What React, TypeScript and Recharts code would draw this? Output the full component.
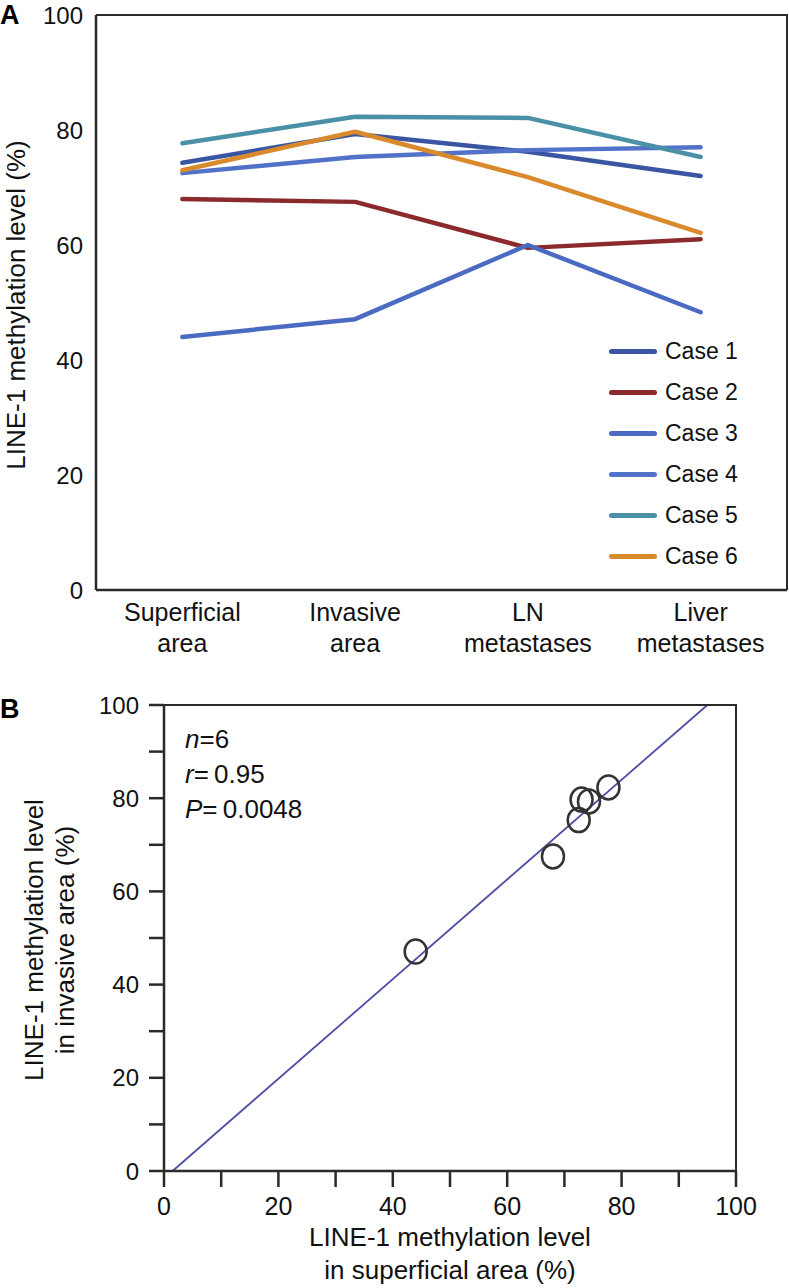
import React from 'react';
import { LineChart, Line, XAxis, YAxis, Legend, ScatterChart, Scatter, ReferenceLine } from 'recharts';

const FONT = '"Liberation Sans", Arial, Helvetica, sans-serif';

// ---- Data ----
const categories = ['Superficial area', 'Invasive area', 'LN metastases', 'Liver metastases'];
const tickLine1 = ['Superficial', 'Invasive', 'LN', 'Liver'];
const tickLine2 = ['area', 'area', 'metastases', 'metastases'];

const caseNames = ['Case 1', 'Case 2', 'Case 3', 'Case 4', 'Case 5', 'Case 6'];
const case1 = [74.3, 79.3, 76.2, 72.0];
const case2 = [68.0, 67.5, 59.5, 61.0];
const case3 = [44.0, 47.1, 60.0, 48.3];
const case4 = [72.5, 75.3, 76.5, 77.0];
const case5 = [77.7, 82.3, 82.1, 75.3];
const case6 = [73.0, 79.7, 71.8, 62.1];
const caseColors = ['#3a56a3', '#8a2a2c', '#4b6bc2', '#5272c9', '#4a90a6', '#d98a2c'];

const xDomainA: [number, number] = [-0.5, 3.5];
const yDomain: [number, number] = [0, 100];
const xDomainB: [number, number] = [0, 100];
const xTicksA = [0, 1, 2, 3];
const yTicksA = [0, 20, 40, 60, 80, 100];
const ticksB = [0, 10, 20, 30, 40, 50, 60, 70, 80, 90, 100];
const fitLine = [{ x: 1.5, y: 0 }, { x: 95, y: 100 }];
const statsLines = [
  { sym: 'n', val: '=6' },
  { sym: 'r', val: '=\u20090.95' },
  { sym: 'P', val: '=\u20090.0048' },
];

const allCases = [case1, case2, case3, case4, case5, case6];
const lineData = categories.map((c, i) => {
  const row: any = { idx: i, cat: c };
  allCases.forEach((arr, k) => { row[caseNames[k]] = arr[i]; });
  return row;
});
const scatterData = allCases.map((arr) => ({ x: arr[0], y: arr[1] }));

const AX = '#2a2a2a';
const axisLineStyle = { stroke: AX, strokeWidth: 2.5 };

// chart layouts (plot boxes)
const A = { w: 789, h: 660, top: 15, right: 2, left: 96, xAxisH: 70 };
const B = { y0: 660, w: 789, h: 628, top: 45, right: 53, left: 164, xAxisH: 117 };

const XTickA = (props: any) => {
  const { x, y, payload } = props;
  const i = Math.round(Number(payload.value));
  return (
    <text x={x} y={y} textAnchor="middle" fontFamily={FONT} fontSize={25} fill="#111">
      <tspan x={x} dy={31}>{tickLine1[i]}</tspan>
      <tspan x={x} dy={31}>{tickLine2[i]}</tspan>
    </text>
  );
};

const LegendA = () => (
  <div style={{ fontFamily: FONT }}>
    {caseNames.map((n, i) => (
      <div key={n} style={{ display: 'flex', alignItems: 'center', height: 41 }}>
        <span style={{ display: 'inline-block', width: 48, height: 5, borderRadius: 3, background: caseColors[i] }} />
        <span style={{ marginLeft: 8, fontSize: 23, color: '#111' }}>{n}</span>
      </div>
    ))}
  </div>
);

const tickFmt = (v: number) => (v % 20 === 0 ? String(v) : '');
const ringShape = (p: any) => (
  <ellipse cx={p.cx} cy={p.cy} rx={11} ry={12} fill="none" stroke="#333" strokeWidth={2.5} />
);

const frameStyle = (left: number, top: number, right: number, bottom: number): React.CSSProperties => ({
  position: 'absolute',
  left,
  top: top - 1.25,
  width: right - left + 1.25,
  height: bottom - top + 1.25,
  borderTop: `2.5px solid ${AX}`,
  borderRight: `2.5px solid ${AX}`,
  boxSizing: 'border-box',
  pointerEvents: 'none',
});

export default function App() {
  return (
    <div style={{ position: 'absolute', left: 0, top: 0, width: 789, height: 1288, background: '#fff', fontFamily: FONT }}>
      <div style={{ position: 'absolute', left: 0, top: 0, fontSize: 27, fontWeight: 'bold', lineHeight: '30px' }}>A</div>
      <div style={{ position: 'absolute', left: 0, top: 694, fontSize: 27, fontWeight: 'bold', lineHeight: '30px' }}>B</div>

      <div style={{ position: 'absolute', left: 0, top: 0 }}>
        <LineChart width={A.w} height={A.h} data={lineData} margin={{ top: A.top, right: A.right, left: 0, bottom: 0 }}>
          <XAxis dataKey="idx" type="number" domain={xDomainA} ticks={xTicksA} height={A.xAxisH}
            tick={<XTickA />} tickLine={false} tickSize={0} tickMargin={0} interval={0}
            axisLine={axisLineStyle} />
          <YAxis width={A.left} domain={yDomain} ticks={yTicksA} tickLine={false} tickSize={0} tickMargin={13}
            axisLine={axisLineStyle}
            tick={{ fontFamily: FONT, fontSize: 24, fill: '#111' }}
            label={() => (
              <text transform="translate(16,305) rotate(-90)" textAnchor="middle" dy="0.35em"
                fontFamily={FONT} fontSize={26} fill="#111">LINE-1 methylation level (%)</text>
            )} />
          {caseNames.map((n, i) => (
            <Line key={n} dataKey={n} stroke={caseColors[i]} strokeWidth={4.5} dot={false}
              isAnimationActive={false} strokeLinejoin="round" strokeLinecap="round" />
          ))}
          <Legend layout="vertical" align="center" verticalAlign="middle" content={<LegendA />}
            wrapperStyle={{ left: 609, top: 331, width: 180, height: 250 }} />
        </LineChart>
      </div>
      <div style={frameStyle(A.left, A.top, A.w - A.right, A.h - A.xAxisH)} />

      <div style={{ position: 'absolute', left: 0, top: B.y0 }}>
        <ScatterChart width={B.w} height={B.h} margin={{ top: B.top, right: B.right, left: 0, bottom: 0 }}>
          <XAxis type="number" dataKey="x" domain={xDomainB} ticks={ticksB} tickFormatter={tickFmt}
            height={B.xAxisH} tickSize={16} tickMargin={10} interval={0}
            tickLine={axisLineStyle} axisLine={axisLineStyle}
            tick={{ fontFamily: FONT, fontSize: 25, fill: '#111' }}
            label={() => (
              <text textAnchor="middle" fontFamily={FONT} fontSize={26} fill="#111">
                <tspan x={450} y={586}>LINE-1 methylation level</tspan>
                <tspan x={450} y={619}>in superficial area (%)</tspan>
              </text>
            )} />
          <YAxis type="number" dataKey="y" domain={yDomain} ticks={ticksB} tickFormatter={tickFmt}
            width={B.left} tickSize={15} tickMargin={10} interval={0}
            tickLine={axisLineStyle} axisLine={axisLineStyle}
            tick={{ fontFamily: FONT, fontSize: 24, fill: '#111' }}
            label={() => (
              <g fontFamily={FONT} fontSize={26} fill="#111">
                <text transform="translate(34,280) rotate(-90)" textAnchor="middle" dy="0.35em">LINE-1 methylation level</text>
                <text transform="translate(65,280) rotate(-90)" textAnchor="middle" dy="0.35em">in invasive area (%)</text>
              </g>
            )} />
          <ReferenceLine segment={fitLine} stroke="#4f4fa8" strokeWidth={1.8} ifOverflow="visible" />
          <Scatter data={scatterData} isAnimationActive={false} shape={ringShape} />
        </ScatterChart>
      </div>
      <div style={frameStyle(B.left, B.y0 + B.top, B.w - B.right, B.y0 + B.h - B.xAxisH)} />

      <div style={{ position: 'absolute', left: 185, top: 722, fontSize: 26, lineHeight: '35px', color: '#111' }}>
        {statsLines.map((s) => (
          <div key={s.sym}><i>{s.sym}</i>{s.val}</div>
        ))}
      </div>
    </div>
  );
}
